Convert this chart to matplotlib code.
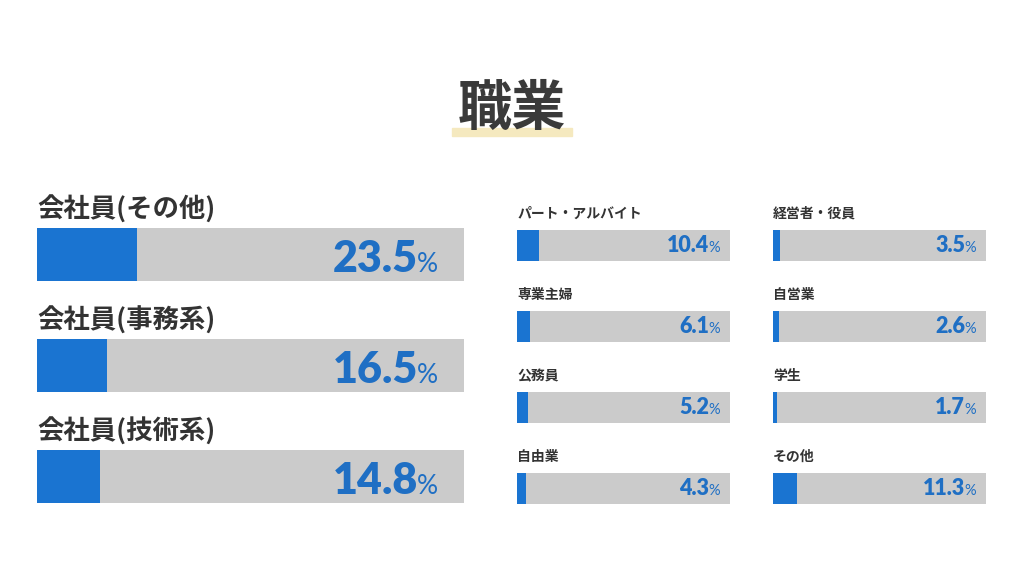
import matplotlib
matplotlib.use("Agg")
import matplotlib.pyplot as plt
from matplotlib.patches import Rectangle

plt.rcParams['font.family'] = ['Noto Sans CJK JP', 'DejaVu Sans']

title = "職業"
main_cats = ["会社員(その他)", "会社員(事務系)", "会社員(技術系)"]
main_vals = [23.5, 16.5, 14.8]
mid_cats = ["パート・アルバイト", "専業主婦", "公務員", "自由業"]
mid_vals = [10.4, 6.1, 5.2, 4.3]
right_cats = ["経営者・役員", "自営業", "学生", "その他"]
right_vals = [3.5, 2.6, 1.7, 11.3]

W, H = 1024, 576
BLUE = "#1a74d1"
TXTBLUE = "#1f6fc4"
GRAY = "#cbcbcb"
DARK = "#333333"
NUMFONT = ["Lato", "DejaVu Sans"]

fig = plt.figure(figsize=(W / 100, H / 100), dpi=100)
fig.patch.set_facecolor("white")


def px_axes(x0, y0, x1, y1):
    return fig.add_axes([x0 / W, 1 - y1 / H, (x1 - x0) / W, (y1 - y0) / H])


def draw_group(ax, cats, vals, bar_h, lab_off, lab_size, num_size, pct_size,
               num_x, pct_x, base_off):
    n = len(cats)
    ys = list(range(n))
    ax.barh(ys, [100] * n, height=bar_h, color=GRAY, zorder=1)
    ax.barh(ys, vals, height=bar_h, color=BLUE, zorder=2)
    ax.set_xlim(0, 100)
    ax.set_ylim(n - 0.5, -0.5)
    ax.axis("off")
    for y, c, v in zip(ys, cats, vals):
        ax.text(0, y + lab_off, c, ha="left", va="center", fontsize=lab_size,
                fontweight="bold", color=DARK)
        ax.text(num_x, y + base_off, f"{v:.1f}", ha="right", va="baseline",
                fontsize=num_size, fontweight="heavy", color=TXTBLUE,
                family=NUMFONT, transform=ax.get_yaxis_transform())
        ax.text(pct_x, y + base_off, "%", ha="right", va="baseline",
                fontsize=pct_size, color=TXTBLUE, family=NUMFONT,
                transform=ax.get_yaxis_transform())


# Left big column
ax1 = px_axes(37, 199, 464, 532)
draw_group(ax1, main_cats, main_vals, 53 / 111, -0.40, 19, 31, 19,
           0.893, 0.939, 0.158)

# Middle column
ax2 = px_axes(517, 204.5, 730, 528.5)
draw_group(ax2, mid_cats, mid_vals, 31 / 81, -0.385, 10, 15.5, 10.5,
           0.902, 0.953, 0.086)

# Right column
ax3 = px_axes(773, 204.5, 986, 528.5)
draw_group(ax3, right_cats, right_vals, 31 / 81, -0.385, 10, 15.5, 10.5,
           0.902, 0.953, 0.086)

# Title with highlight
fig.patches.append(Rectangle((452 / W, 1 - 136 / H), 120 / W, 8 / H,
                             transform=fig.transFigure, color="#f5e9bf",
                             zorder=0))
fig.text(512 / W, 1 - 109 / H, title, ha="center", va="center",
         fontsize=39, fontweight="bold", color="#3a3a3a", zorder=2)

fig.savefig("out.png", dpi=100, facecolor="white")
